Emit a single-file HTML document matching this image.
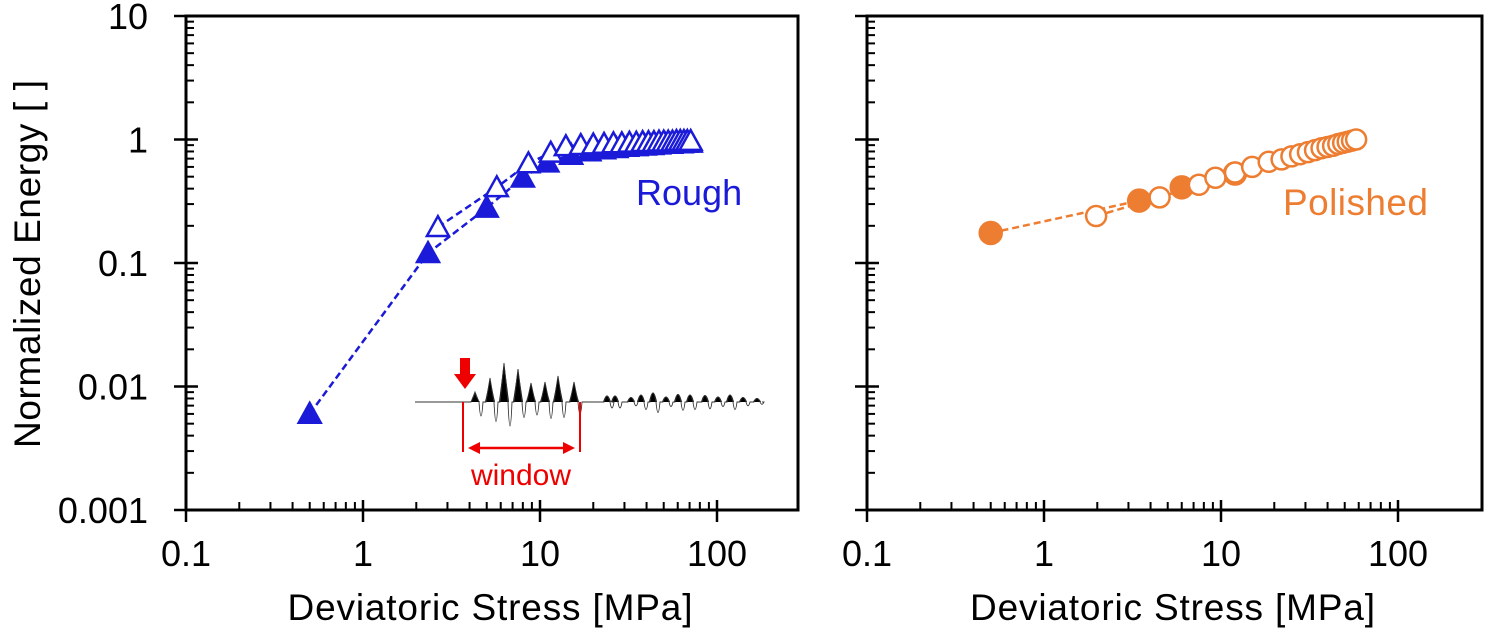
<!DOCTYPE html>
<html><head><meta charset="utf-8"><style>
body{margin:0;background:#fff;}
svg{display:block;font-family:"Liberation Sans",Arial,sans-serif;}
</style></head><body>
<svg id="c" width="1487" height="635" viewBox="0 0 1487 635"></svg>
<script>
const xTicks=[0.1,1,10,100];
const xTickLabels=["0.1","1","10","100"];
const yTicks=[10,1,0.1,0.01,0.001];
const yTickLabels=["10","1","0.1","0.01","0.001"];
const roughFilledX=[0.5,2.33,5.0,8.0,11,15,19,23,27,31,35,39,43,47,51,55,59,63,67,71];
const roughFilledY=[0.006,0.12,0.28,0.49,0.65,0.75,0.8,0.83,0.85,0.87,0.88,0.89,0.9,0.91,0.92,0.92,0.93,0.93,0.94,0.94];
const roughOpenX=[2.65,5.7,8.6,11.5,14,17,20,23,26,29,32,35,38,41,44,47,50,53,56,59,62,65,68,71];
const roughOpenY=[0.195,0.41,0.64,0.78,0.88,0.9,0.91,0.92,0.93,0.93,0.94,0.94,0.95,0.95,0.95,0.96,0.96,0.96,0.96,0.97,0.97,0.97,0.97,0.97];
const polFilledX=[0.5,3.45,6.0,12];
const polFilledY=[0.175,0.32,0.41,0.53];
const polOpenX=[1.97,4.5,7.5,9.3,12,15,18.6,22,25,28,31,34,37,40,43,46,49,52,55,58];
const polOpenY=[0.24,0.34,0.43,0.49,0.54,0.6,0.66,0.69,0.73,0.76,0.79,0.82,0.85,0.87,0.89,0.92,0.94,0.96,0.98,1.0];
const wavePeakX=[475,490,504,518,531,545,558,574];
const wavePeakY=[392,378,363,369,383,382,376,382];
const waveDipY=[422,433,442,425,420,427,425,418];
const wave2X=[607,615,631,641,653,666,678,690,705,718,730,743,757];
const wave2Y=[394,394,397,392,388,396,391,392,393,396,392,397,399];

const NS="http://www.w3.org/2000/svg";
const svg=document.getElementById('c');
function mk(tag,attrs,parent){const e=document.createElementNS(NS,tag);for(const k in attrs)e.setAttribute(k,attrs[k]);(parent||svg).appendChild(e);return e;}
const BLUE="#1a1ad8",ORANGE="#ed7d31";

function panel(x0,x1,name){
  const yT=16,yB=510;
  const sx=v=>x0+(Math.log10(v)+1)*177;
  const sy=v=>yT+(1-Math.log10(v))*((yB-yT)/4);
  const g=mk('g',{});
  
  
  const fr=mk('rect',{x:x0,y:yT,width:x1-x0,height:yB-yT,fill:'none',stroke:'#000','stroke-width':3},g);
  
  
  for(let d=-3;d<1;d++){for(let m=1;m<10;m++){const v=m*Math.pow(10,d);const y=sy(v);
    if(m==1)mk('line',{x1:x0-12,x2:x0+12,y1:y,y2:y,stroke:'#000','stroke-width':2.5},g);
    else mk('line',{x1:x0,x2:x0+8,y1:y,y2:y,stroke:'#000','stroke-width':2},g);}}
  mk('line',{x1:x0-12,x2:x0+12,y1:sy(10),y2:sy(10),stroke:'#000','stroke-width':2.5},g);
  for(let d=-1;d<2;d++){for(let m=1;m<10;m++){const v=m*Math.pow(10,d);const x=sx(v);if(x>x1)continue;
    if(m==1)mk('line',{x1:x,x2:x,y1:yB-10,y2:yB+12,stroke:'#000','stroke-width':2.5},g);
    else mk('line',{x1:x,x2:x,y1:yB,y2:yB-8,stroke:'#000','stroke-width':2},g);}}
  mk('line',{x1:sx(100),x2:sx(100),y1:yB-10,y2:yB+12,stroke:'#000','stroke-width':2.5},g);
  xTicks.forEach((v,i)=>{const t=mk('text',{x:sx(v),y:566,'text-anchor':'middle','font-size':36,fill:'#000'},g);t.textContent=xTickLabels[i];
    
    });
  const xt=mk('text',{x:(x0+x1)/2-2,y:620,'text-anchor':'middle','font-size':37,fill:'#000',textLength:405},g);
  xt.textContent='Deviatoric Stress [MPa]';
  
  
  return {sx,sy,g,x0};
}

const L=panel(186,798,'rough-panel');
yTicks.forEach((v,i)=>{const t=mk('text',{x:148,y:L.sy(v)+13,'text-anchor':'end','font-size':36,fill:'#000'});t.textContent=yTickLabels[i];
  
  });
const yt=mk('text',{x:0,y:0,'text-anchor':'middle','font-size':37,fill:'#000',textLength:368,transform:'translate(40,264) rotate(-90)'});
yt.textContent='Normalized Energy [ ]';


const R=panel(867,1482,'polished-panel');

function series(P,xs,ys,color,shape,filled,name){
  const g=mk('g',{},P.g);
  
  
  const pts=xs.map((x,i)=>[P.sx(x),P.sy(ys[i])]);
  mk('polyline',{points:pts.map(p=>p.join(',')).join(' '),fill:'none',stroke:color,'stroke-width':2.5,'stroke-dasharray':'7,4'},g);
  pts.forEach(p=>{let m;
    if(shape=='tri'){const s=11;m=mk('polygon',{points:`${p[0]},${p[1]-s} ${p[0]-s},${p[1]+s*0.8} ${p[0]+s},${p[1]+s*0.8}`,fill:filled?color:'#fff',stroke:color,'stroke-width':2.5},g);}
    else m=mk('circle',{cx:p[0],cy:p[1],r:filled?11:10,fill:filled?color:'#fff',stroke:color,'stroke-width':2.5},g);
    
    });
}
series(L,roughFilledX,roughFilledY,BLUE,'tri',true,'rough-filled-series');
series(L,roughOpenX,roughOpenY,BLUE,'tri',false,'rough-open-series');
series(R,polFilledX,polFilledY,ORANGE,'circ',true,'polished-filled-series');
series(R,polOpenX,polOpenY,ORANGE,'circ',false,'polished-open-series');

const rl=mk('text',{x:636,y:205,'font-size':36,fill:BLUE});rl.textContent='Rough';


const pl=mk('text',{x:1283,y:215,'font-size':37,fill:ORANGE,textLength:145});pl.textContent='Polished';



const ig=mk('g',{});


const base=402;
let d=`M415,${base} L470,${base}`;
let fillD='';
wavePeakX.forEach((x,i)=>{
  d+=` L${x-4},${base} L${x},${wavePeakY[i]} L${x+4},${base} Q${x+6},${waveDipY[i]+8} ${x+8},${base}`;
  fillD+=`M${x-5},${base} Q${x-1},${wavePeakY[i]+6} ${x},${wavePeakY[i]} Q${x+1},${wavePeakY[i]+6} ${x+5},${base} Z `;
});
d+=` L600,${base}`;
wave2X.forEach((x,i)=>{d+=` L${x-3},${base} Q${x},${wave2Y[i]-4} ${x+3},${base} Q${x+5},${base+(base-wave2Y[i])*1.5} ${x+7},${base}`;
  fillD+=`M${x-4},${base} Q${x},${wave2Y[i]-5} ${x+4},${base} Z `;});
d+=` L762,${base}`;
mk('path',{d:fillD,fill:'#000'},ig);
mk('path',{d:d,fill:'none',stroke:'#333','stroke-width':0.9},ig);
mk('line',{x1:463,x2:463,y1:402,y2:452,stroke:'#e00','stroke-width':2},ig);
mk('line',{x1:580,x2:580,y1:402,y2:452,stroke:'#e00','stroke-width':2},ig);
mk('line',{x1:475,x2:568,y1:448,y2:448,stroke:'#e00','stroke-width':2.5},ig);
mk('polygon',{points:'468,448 480,442 480,454',fill:'#e00'},ig);
mk('polygon',{points:'575,448 563,442 563,454',fill:'#e00'},ig);
const arr=mk('polygon',{points:'460,358 470,358 470,374 476,374 465,389 454,374 460,374',fill:'#e00'},ig);


const wt=mk('text',{x:521,y:485,'text-anchor':'middle','font-size':30,fill:'#e00'},ig);
wt.textContent='window';


</script>
</body></html>
